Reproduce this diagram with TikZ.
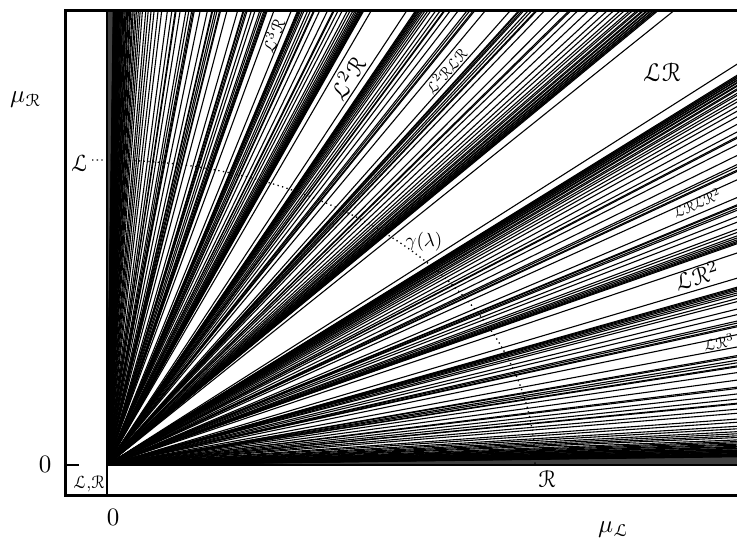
\documentclass[tikz,border=0pt]{standalone}
\usepackage{eucal}
\tikzset{
  ray/.style={line width=1.1pt},
  border/.style={line width=3pt},
  inner/.style={line width=2pt},
  lab/.style={inner sep=0pt},
  dotcurve/.style={line width=1.3pt,dash pattern=on 1.3pt off 3.4pt},
  declare function={ang(\u)=atan2(0.714*(1-\u)^1.05,(\u)^1.05);}
}
\newcommand\fanrec[5]{%
  \begingroup
  \pgfmathsetmacro\aL{ang(#1)}%
  \pgfmathsetmacro\aR{ang(#2)}%
  \pgfmathtruncatemacro\go{(\aL-\aR>0.8)*(#5>0)}%
  \ifnum\go=1
    \pgfmathsetmacro\gp{#2-#1}%
    \pgfmathsetmacro\lam{#4/(#3+#4)}%
    \pgfmathsetmacro\hw{(min(#3,#4)==1)?0.0275:0.05}%
    \pgfmathsetmacro\eA{#1+\gp*(\lam-\hw)}%
    \pgfmathsetmacro\eB{#1+\gp*(\lam+\hw)}%
    \pgfmathtruncatemacro\qq{#3+#4}%
    \pgfmathtruncatemacro\dd{#5-1}%
    \pgfmathsetmacro\tA{ang(\eA)}%
    \pgfmathsetmacro\tB{ang(\eB)}%
    \draw[ray] (O) -- ({107+1500*cos(\tA)},{465-1500*sin(\tA)});
    \draw[ray] (O) -- ({107+1500*cos(\tB)},{465-1500*sin(\tB)});
    \edef\nA{\noexpand\fanrec{#1}{\eA}{#3}{\qq}{\dd}}%
    \edef\nB{\noexpand\fanrec{\eB}{#2}{\qq}{#4}{\dd}}%
    \nA\nB
  \fi
  \endgroup}
\begin{document}
\begin{tikzpicture}[x=1pt,y=-1pt]
\useasboundingbox (0,0) rectangle (737,542);
\coordinate (O) at (107,465);
\begin{scope}
  \clip (107,10) rectangle (737,465);
  \fill[black!75] (O) -- ({107+1500*cos(89.2)},{465-1500*sin(89.2)}) -- (107,-1100) -- cycle;
  \fill[black!75] (O) -- ({107+1500*cos(0.8)},{465-1500*sin(0.8)}) -- (1700,465) -- cycle;
  \fanrec{0.0005}{0.9995}{1}{1}{90}
\end{scope}
% fan edges
\draw[line width=2pt] (107,10) -- (O) -- (737,465);
% frame
\draw[border] (737,10) -- (65,10) -- (65,495) -- (737,495);
\draw[inner] (107,465) -- (107,495);
\draw[inner] (65,465) -- (79,465);
% dotted curve
\coordinate (Ldot) at (92,160);
\draw[dotcurve] (Ldot) -- (107,160) -- plot[domain=90:0,samples=90] ({107+428*cos(\x)},{465-305*sin(\x)});
% labels
\node[lab,scale=2.5] (muR) at (26,100) {$\mu_{\mathcal{R}}$};
\node[lab,scale=2.4] (Llab) at (80,163) {$\mathcal{L}$};
\node[lab,scale=2.5] (zeroL) at (45,464) {0};
\node[lab,scale=1.8] (LRbox) at (89,484) {$\mathcal{L}{,}\mathcal{R}$};
\node[lab,scale=2.5] (zeroB) at (113,517) {0};
\node[lab,scale=2.5] (muL) at (614,530) {$\mu_{\mathcal{L}}$};
\node[lab,scale=2.4] (Rlab) at (547,479) {$\mathcal{R}$};
\node[lab,scale=1.8,rotate=69] (L3R) at (273,36) {$\mathcal{L}^3\mathcal{R}$};
\node[lab,scale=2.4,rotate=58] (L2R) at (347,78) {$\mathcal{L}^2\mathcal{R}$};
\node[lab,scale=1.6,rotate=49] (L2RLR) at (446,71) {$\mathcal{L}^2\mathcal{R}\mathcal{L}\mathcal{R}$};
\node[lab,scale=2.6] (LR) at (662,72) {$\mathcal{L}\mathcal{R}$};
\node[lab,scale=1.9] (gam) at (424,242) {$\gamma(\lambda)$};
\node[lab,scale=1.5,rotate=23] (LRLR2) at (697,203) {$\mathcal{L}\mathcal{R}\mathcal{L}\mathcal{R}^2$};
\node[lab,scale=2.4,rotate=17] (LR2) at (697,276) {$\mathcal{L}\mathcal{R}^2$};
\node[lab,scale=1.6,rotate=11] (LR3) at (719,342) {$\mathcal{L}\mathcal{R}^3$};
\end{tikzpicture}
\end{document}
